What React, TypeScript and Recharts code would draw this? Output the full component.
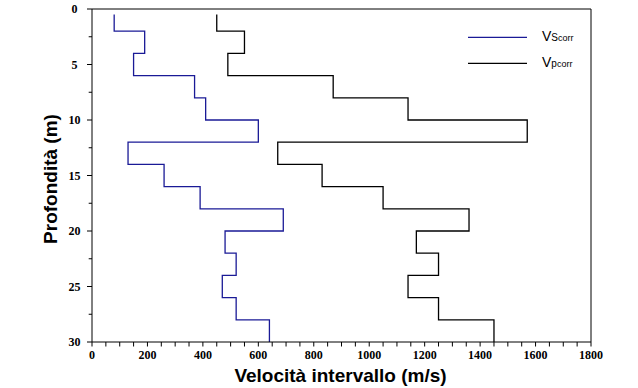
import React from 'react';
import { LineChart, Line, XAxis, YAxis, ReferenceLine, Legend } from 'recharts';

// strati del profilo (m) e velocità intervallo (m/s)
const layerTop = [0.5, 2, 4, 6, 8, 10, 12, 14, 16, 18, 20, 22, 24, 26, 28];
const layerBottom = [2, 4, 6, 8, 10, 12, 14, 16, 18, 20, 22, 24, 26, 28, 30];
const vsCorr = [80, 190, 150, 370, 410, 600, 130, 260, 390, 690, 480, 520, 470, 520, 640];
const vpCorr = [450, 550, 490, 870, 1140, 1570, 670, 830, 1050, 1360, 1170, 1250, 1140, 1250, 1450];

const velocityLabels = [0, 200, 400, 600, 800, 1000, 1200, 1400, 1600, 1800];
const depthLabels = [0, 5, 10, 15, 20, 25, 30];

const legendOrder = ['vs', 'vp'];
const legendText: Record<string, { main: string; mid: string; sub: string }> = {
  vs: { main: 'V', mid: 'S', sub: 'corr' },
  vp: { main: 'V', mid: 'p', sub: 'corr' },
};

// gradini: ogni strato diventa due punti (tetto e letto)
const profile = layerTop.flatMap((top, i) => [
  { depth: top, vs: vsCorr[i], vp: vpCorr[i] },
  { depth: layerBottom[i], vs: vsCorr[i], vp: vpCorr[i] },
]);

// tacche minori ogni 50 m/s e ogni 2.5 m
const velocityTicks = Array.from({ length: 37 }, (_, i) => i * 50);
const depthTicks = Array.from({ length: 13 }, (_, i) => i * 2.5);

const tickFont = "'Liberation Serif', 'Times New Roman', serif";
const titleFont = "'Liberation Sans', Arial, sans-serif";

function BottomTick(props: any) {
  const { x, y, payload } = props;
  const isMajor = velocityLabels.includes(payload.value);
  return (
    <g>
      <line x1={x} x2={x} y1={y} y2={y + 4.5} stroke="#000" strokeWidth={1} />
      {isMajor && (
        <text x={x} y={y + 17} textAnchor="middle" style={{ fontFamily: tickFont, fontWeight: 'bold', fontSize: 12 }} fill="#000">
          {payload.value}
        </text>
      )}
    </g>
  );
}

function TopTick(props: any) {
  const { x, y } = props;
  return <line x1={x} x2={x} y1={y} y2={y + 5} stroke="#000" strokeWidth={1} />;
}

function LeftTick(props: any) {
  const { x, y, payload } = props;
  const isMajor = depthLabels.includes(payload.value);
  return (
    <g>
      <line x1={x - (isMajor ? 5 : 3.3)} x2={x} y1={y} y2={y} stroke="#000" strokeWidth={1} />
      {isMajor && (
        <text x={x - 17.5} y={y + 4} textAnchor="middle" style={{ fontFamily: tickFont, fontWeight: 'bold', fontSize: 12 }} fill="#000">
          {payload.value}
        </text>
      )}
    </g>
  );
}

function XTitle(props: any) {
  const { x, y, width } = props.viewBox;
  return (
    <text x={x + width / 2 - 1} y={y + 39.5} textAnchor="middle" style={{ fontFamily: titleFont, fontWeight: 'bold', fontSize: 19 }} fill="#000">
      Velocità intervallo (m/s)
    </text>
  );
}

function YTitle(props: any) {
  const { x, y, height } = props.viewBox;
  const cx = x + 26.5;
  const cy = y + height / 2 + 3.5;
  return (
    <text x={cx} y={cy} transform={`rotate(-90 ${cx} ${cy})`} textAnchor="middle" style={{ fontFamily: titleFont, fontWeight: 'bold', fontSize: 19 }} fill="#000">
      Profondità (m)
    </text>
  );
}

function LegendContent(props: any) {
  const payload = [...(props.payload || [])].sort(
    (a: any, b: any) => legendOrder.indexOf(a.dataKey) - legendOrder.indexOf(b.dataKey)
  );
  return (
    <svg width={130} height={52} style={{ display: 'block' }}>
      {payload.map((entry: any, i: number) => {
        const cy = 12.3 + i * 26;
        const t = legendText[entry.dataKey] || { main: entry.value, mid: '', sub: '' };
        return (
          <g key={entry.dataKey}>
            <line x1={8} x2={67} y1={cy} y2={cy} stroke={entry.color} strokeWidth={1.3} />
            <text x={82} y={cy + 3.6} fill="#000" style={{ fontFamily: titleFont }}>
              <tspan style={{ fontSize: 14, fontFamily: "'Liberation Sans Narrow', 'Liberation Sans', sans-serif" }}>{t.main}</tspan>
              <tspan style={{ fontSize: 10 }}>{t.mid}</tspan>
              <tspan style={{ fontSize: 9 }}>{t.sub}</tspan>
            </text>
          </g>
        );
      })}
    </svg>
  );
}

export default function App() {
  return (
    <div style={{ position: 'absolute', left: 0, top: 0, width: 638, height: 388, background: '#fff' }}>
      <LineChart
        width={638}
        height={388}
        layout="vertical"
        data={profile}
        margin={{ top: 8, right: 47, bottom: 0, left: 30 }}
      >
        <XAxis
          type="number"
          domain={[0, 1800]}
          ticks={velocityTicks}
          interval={0}
          height={46}
          tickSize={0}
          tickMargin={0}
          tickLine={false}
          tick={<BottomTick />}
          axisLine={{ stroke: '#000', strokeWidth: 1 }}
          label={<XTitle />}
        />
        <XAxis
          xAxisId="top"
          orientation="top"
          type="number"
          domain={[0, 1800]}
          ticks={velocityTicks}
          interval={0}
          height={1}
          tickSize={0}
          tickMargin={0}
          tickLine={false}
          tick={<TopTick />}
          axisLine={{ stroke: '#000', strokeWidth: 1 }}
        />
        <YAxis
          type="number"
          dataKey="depth"
          domain={[0, 30]}
          ticks={depthTicks}
          interval={0}
          width={62}
          tickSize={0}
          tickMargin={0}
          tickLine={false}
          tick={<LeftTick />}
          axisLine={{ stroke: '#000', strokeWidth: 1 }}
          label={<YTitle />}
        />
        <ReferenceLine x={1800} stroke="#000" strokeWidth={1} />
        <Legend
          layout="horizontal"
          verticalAlign="middle"
          align="center"
          content={<LegendContent />}
          wrapperStyle={{ left: 460, top: 25, width: 130, height: 52 }}
        />
        <Line
          dataKey="vs"
          name="Vscorr"
          type="linear"
          stroke="#1a1a96"
          strokeWidth={1.3}
          dot={false}
          activeDot={false}
          isAnimationActive={false}
        />
        <Line
          dataKey="vp"
          name="Vpcorr"
          type="linear"
          stroke="#000"
          strokeWidth={1.3}
          dot={false}
          activeDot={false}
          isAnimationActive={false}
        />
      </LineChart>
    </div>
  );
}
